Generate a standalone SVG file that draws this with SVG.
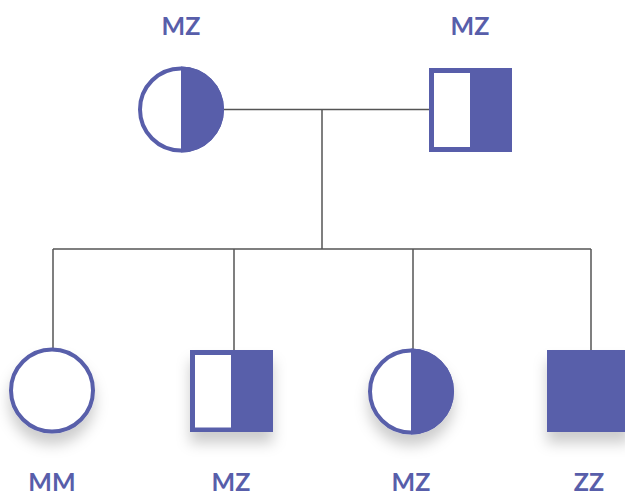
<svg xmlns="http://www.w3.org/2000/svg" width="625" height="497" viewBox="0 0 625 497">
<defs>
<style>
.lbl{font-family:"Lato","Open Sans","Liberation Sans",sans-serif;font-weight:700;font-size:25px;fill:#585eaa;text-anchor:middle}
.ln{stroke:#555;stroke-width:1.5;fill:none}
.st{stroke:#585eaa;stroke-width:4;fill:#fff}
.fl{fill:#585eaa}
</style>
<filter id="sh" x="-50%" y="-50%" width="200%" height="200%">
<feDropShadow dx="0" dy="11" stdDeviation="7" flood-color="#000" flood-opacity="0.2"/>
</filter>
</defs>
<rect width="625" height="497" fill="#fff"/>
<g id="connectors">
<path class="ln" d="M224 109.5H429M322 109.5V249M53 249H591M53 249V350M234 249V350M413 249V350M591 249V350"/>
</g>
<g id="mother">
<text class="lbl" x="181" y="35">MZ</text>
<circle class="st" cx="181" cy="109.5" r="41"/>
<path class="fl" d="M181 66.5A43 43 0 0 1 181 152.5Z"/>
</g>
<g id="father">
<text class="lbl" x="470" y="35">MZ</text>
<rect class="fl" x="429" y="68" width="83" height="84"/>
<rect x="434" y="73" width="36" height="74" fill="#fff"/>
</g>
<g id="child1">
<g filter="url(#sh)">
<circle class="st" cx="52" cy="390.5" r="41"/>
</g>
<text class="lbl" x="52" y="491">MM</text>
</g>
<g id="child2">
<g filter="url(#sh)">
<rect class="fl" x="190" y="350" width="83" height="82"/>
</g>
<rect x="195" y="355" width="36" height="72.5" fill="#fff"/>
<text class="lbl" x="231" y="491">MZ</text>
</g>
<g id="child3">
<g filter="url(#sh)">
<circle class="st" cx="411" cy="391.5" r="41"/>
</g>
<path class="fl" d="M411 348.5A43 43 0 0 1 411 434.5Z"/>
<text class="lbl" x="411" y="491">MZ</text>
</g>
<g id="child4">
<g filter="url(#sh)">
<rect class="fl" x="547" y="350" width="83" height="82"/>
</g>
<text class="lbl" x="589" y="491">ZZ</text>
</g>
</svg>
